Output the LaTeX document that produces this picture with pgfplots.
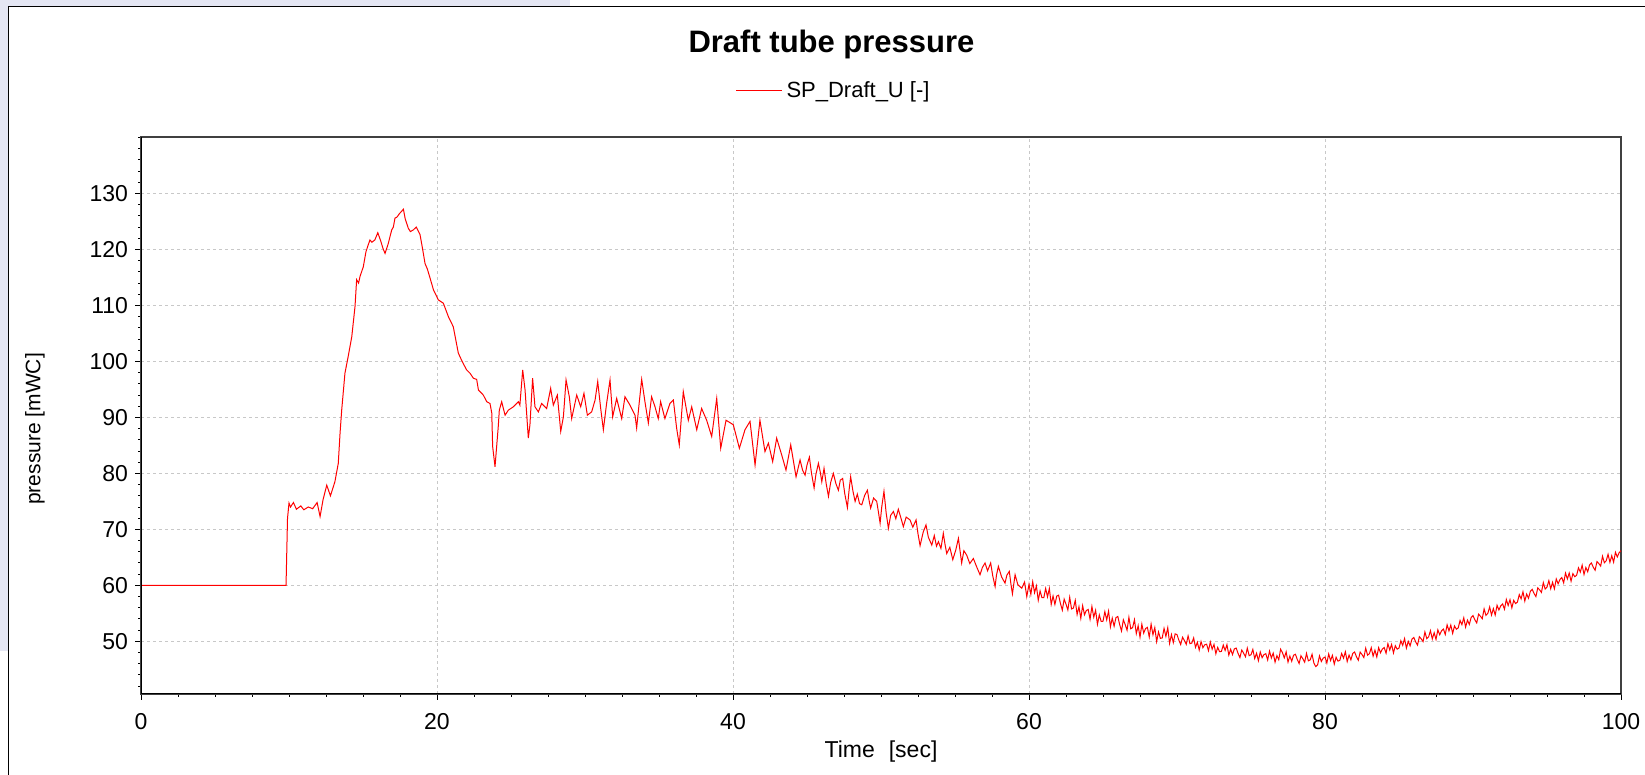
\documentclass[border=0pt]{standalone}
\usepackage{fontspec}
\setmainfont{Liberation Sans}
\usepackage{pgfplots}
\pgfplotsset{compat=1.18}
\definecolor{bgl}{RGB}{228,230,243}
\definecolor{gridc}{RGB}{200,200,200}

\begin{document}
\begin{tikzpicture}
\useasboundingbox (0,0) rectangle (822.5pt,387.5pt);
% screenshot surroundings and window frame
\begin{scope}
\clip (0,0) rectangle (822.5pt,387.5pt);
\fill[white] (0,0) rectangle (822.5pt,387.5pt);
\fill[bgl] (0,62pt) rectangle (4.25pt,387.5pt);
\fill[bgl] (0,384.25pt) rectangle (285pt,387.5pt);
\draw[black, line width=0.75pt] (4.25pt,-5pt) -- (4.25pt,384.25pt) -- (830pt,384.25pt);
\end{scope}

\node[font=\bfseries\fontsize{15.5}{18}\selectfont, anchor=base] at (415.75pt,361pt) {Draft tube pressure};

\begin{axis}[
  at={(70.5pt,40.5pt)}, anchor=south west,
  width=740pt, height=278.5pt, scale only axis,
  xmin=0, xmax=100, ymin=40.6, ymax=140.1,
  xtick={0,20,...,100}, ytick={50,60,...,130},
  minor xtick={0,2.5,...,100}, minor ytick={42,44,...,140},
  xtick pos=bottom, ytick pos=left,
  tick align=outside, major tick length=3pt, minor tick length=1.5pt,
  every tick/.style={black, line width=0.5pt},
  xmajorgrids, ymajorgrids,
  major grid style={gridc, dash pattern=on 1.5pt off 1.5pt, line width=0.5pt},
  axis line style={draw=black!75, line width=0.7pt},
  ticklabel style={font=\fontsize{11.5}{13}\selectfont},
  xticklabel style={yshift=-3pt},
  /pgf/number format/assume math mode=true,
  xlabel={Time\hspace{7pt}[sec]},
  ylabel={pressure [mWC]},
  xlabel style={at={(axis description cs:0.5,-0.104)}, anchor=center, font=\fontsize{11.5}{13}\selectfont},
  ylabel style={at={(axis description cs:-0.0716,0.476)}, anchor=center, font=\fontsize{10.5}{12}\selectfont},
  legend style={at={(axis description cs:0.4686,1.0826)}, anchor=center, draw=none, fill=none,
    font=\fontsize{11}{13}\selectfont},
  legend image code/.code={\draw[#1] (0pt,0pt) -- (23pt,0pt);},
]
\addplot[red, line width=0.5pt] coordinates {
(0,60) (9.8,60) (9.85,66) (9.9,72) (10.0,74.7) (10.1,74) (10.3,74.8) (10.5,73.6) (10.8,74.2) (11.0,73.5)
(11.3,74.0) (11.6,73.7) (11.9,74.8) (12.1,72.3) (12.3,75.3) (12.55,77.9) (12.8,76.0) (13.1,78.5) (13.33,81.8)
(13.45,87.2) (13.56,91.3) (13.78,97.9) (14.0,100.9) (14.24,104.4) (14.46,109.8) (14.57,114.6) (14.7,114.0)
(14.8,115.2) (15.02,116.9) (15.2,119.6) (15.35,120.8) (15.47,121.7) (15.6,121.3) (15.8,121.7) (16.0,123.0)
(16.2,121.5) (16.35,120.2) (16.49,119.3) (16.7,121.0) (16.94,123.5) (17.05,124.0) (17.16,125.6) (17.3,125.8)
(17.46,126.4) (17.6,126.8) (17.73,127.2) (17.85,125.5) (18.06,123.8) (18.2,123.2) (18.4,123.5) (18.6,124.0)
(18.85,122.7) (19.0,120.5) (19.19,117.5) (19.35,116.5) (19.53,114.9) (19.76,112.8) (20.09,111.0) (20.43,110.4)
(20.77,108.0) (21.1,106.2) (21.44,101.5) (21.7,100.0) (22.0,98.5) (22.23,97.9) (22.46,97.0) (22.68,96.8)
(22.8,94.9) (23.13,94.0) (23.36,92.8) (23.58,92.5) (23.7,90.8) (23.76,84.8) (23.92,81.2) (24.03,84.8)
(24.14,88.4) (24.21,91.3) (24.37,92.8) (24.6,90.4) (24.82,91.3) (25.16,91.9) (25.5,92.8) (25.6,92.2)
(25.79,98.5) (25.95,94.9) (26.17,86.3) (26.28,88.7) (26.46,97.0) (26.62,91.9) (26.85,91.0) (27.07,92.5)
(27.41,91.6) (27.68,95.2) (27.86,92.2) (28.13,94.0) (28.36,87.5) (28.54,90.1) (28.72,96.7) (28.94,93.7)
(29.1,89.8) (29.44,94.0) (29.71,91.9) (29.93,94.3) (30.16,90.4) (30.45,91.0) (30.68,93.1) (30.86,96.4)
(31.06,91.6) (31.24,87.8) (31.46,92.5) (31.69,96.7) (31.87,90.1) (32.14,93.4) (32.48,89.8) (32.7,93.7)
(33.04,92.2) (33.38,90.4) (33.49,88.1) (33.67,92.8) (33.83,96.8) (34.05,92.8) (34.28,89.0) (34.5,93.7)
(34.73,91.9) (34.95,89.8) (35.11,92.8) (35.4,89.8) (35.74,92.5) (35.97,93.1) (36.19,88.1) (36.37,85.1)
(36.64,94.6) (36.98,89.5) (37.21,91.9) (37.55,87.8) (37.88,91.6) (38.22,89.5) (38.56,86.6) (38.9,93.4)
(39.17,84.5) (39.53,89.5) (40.02,88.7) (40.43,84.5) (40.81,87.8) (41.15,89.3) (41.49,81.5) (41.82,89.5)
(42.16,83.9) (42.39,85.4) (42.68,82.1) (42.95,86.3) (43.29,83.3) (43.58,80.6) (43.9,85.1) (44.26,79.4)
(44.53,82.4) (44.7,80.6) (44.87,79.7) (45.0,81.5) (45.16,82.9) (45.3,80.1) (45.48,77.4) (45.6,79.8)
(45.77,81.8) (45.9,80.2) (46.0,78.5) (46.15,80.9) (46.3,78.1) (46.45,75.9) (46.6,78.4) (46.78,80.0)
(46.95,78.2) (47.12,77.0) (47.25,78.8) (47.41,79.1) (47.55,76.4) (47.73,73.9) (47.85,77.2) (47.95,79.4)
(48.1,76.9) (48.25,75.0) (48.4,76.3) (48.55,74.6) (48.7,74.4) (48.9,76.1) (49.08,77.0) (49.2,75.1)
(49.3,73.8) (49.5,75.6) (49.71,75.0) (49.82,73.2) (49.94,71.1) (50.05,74.0) (50.2,76.8) (50.35,72.9)
(50.5,70.2) (50.65,72.5) (50.84,73.2) (51.0,71.9) (51.17,73.6) (51.35,72.0) (51.51,70.5) (51.7,72.2)
(51.96,71.7) (52.15,70.4) (52.37,71.7) (52.5,69.2) (52.64,67.1) (52.85,69.5) (53.04,70.8) (53.2,68.6)
(53.43,67.2) (53.6,68.9) (53.75,67.0) (53.88,67.8) (54.05,66.6) (54.21,69.3) (54.32,67.4) (54.44,65.7)
(54.65,66.8) (54.85,64.6) (55.05,66.3) (55.23,68.4) (55.35,66.0) (55.45,64.0) (55.6,66.2) (55.79,65.4)
(56.0,63.9) (56.24,64.8) (56.45,63.4) (56.69,61.9) (56.85,63.2) (57.03,64.0) (57.2,62.6) (57.41,64.0)
(57.55,61.7) (57.71,59.8) (57.8,61.8) (57.93,63.4) (58.15,61.5) (58.38,60.4) (58.5,61.8) (58.67,62.5)
(58.78,60.2) (58.88,58.5) (59.06,61.9) (59.25,60.1) (59.51,59.5) (59.7,60.6) (59.85,58.0)
(60.0,60.2) (60.125,58.4) (60.25,60.65) (60.375,58.7) (60.5,59.9) (60.625,57.35) (60.75,59.0) (60.875,57.8)
(61.0,57.8) (61.125,59.45) (61.25,57.95) (61.375,59.45) (61.5,56.6) (61.625,58.1) (61.75,56.6) (61.875,58.1)
(62.0,58.25) (62.125,56.76) (62.25,55.58) (62.375,57.54) (62.5,56.65) (62.625,55.61) (62.75,57.88) (62.875,55.79)
(63.0,55.95) (63.125,57.33) (63.25,54.8) (63.375,56.18) (63.5,54.1) (63.625,56.38) (63.75,54.75) (63.875,55.53)
(64.0,55.7) (64.125,53.94) (64.25,56.23) (64.375,54.31) (64.5,55.55) (64.625,53.04) (64.75,54.73) (64.875,53.56)
(65.0,53.6) (65.125,55.3) (65.25,53.85) (65.375,55.4) (65.5,52.6) (65.625,54.15) (65.75,52.7) (65.875,54.25)
(66.0,54.45) (66.125,53.0) (66.25,51.85) (66.375,53.85) (66.5,53.0) (66.625,52.0) (66.75,54.3) (66.875,52.25)
(67.0,52.45) (67.125,53.86) (67.25,51.38) (67.375,52.79) (67.5,50.75) (67.625,53.06) (67.75,51.48) (67.875,52.29)
(68.0,52.5) (68.125,50.76) (68.25,53.08) (68.375,51.19) (68.5,52.45) (68.625,49.96) (68.75,51.68) (68.875,50.54)
(69.0,50.6) (69.125,52.31) (69.25,50.88) (69.375,52.44) (69.5,49.65) (69.625,51.21) (69.75,49.78) (69.875,51.34)
(70.0,51.2) (70.125,50.21) (70.25,49.43) (70.375,50.74) (70.5,50.15) (70.625,49.46) (70.75,50.98) (70.875,49.59)
(71.0,49.7) (71.125,50.61) (71.25,48.93) (71.375,49.84) (71.5,48.45) (71.625,49.96) (71.75,48.88) (71.875,49.39)
(72.0,49.5) (72.125,48.34) (72.25,49.88) (72.375,48.61) (72.5,49.45) (72.625,47.79) (72.75,48.93) (72.875,48.16)
(73.0,48.2) (73.125,49.34) (73.25,48.38) (73.375,49.41) (73.5,47.55) (73.625,48.59) (73.75,47.63) (73.875,48.66)
(74.0,48.8) (74.125,47.85) (74.25,47.1) (74.375,48.45) (74.5,47.9) (74.625,47.25) (74.75,48.8) (74.875,47.45)
(75.0,47.6) (75.125,48.56) (75.25,46.93) (75.375,47.89) (75.5,46.55) (75.625,48.11) (75.75,47.08) (75.875,47.64)
(76.0,47.8) (76.125,46.68) (76.25,48.25) (76.375,47.03) (76.5,47.9) (76.625,46.28) (76.75,47.45) (76.875,46.73)
(77.0,48.6) (77.125,47.98) (77.25,47.05) (77.375,48.13) (77.5,46.3) (77.625,47.38) (77.75,46.45) (77.875,47.53)
(78.0,47.7) (78.125,46.78) (78.25,46.05) (78.375,47.43) (78.5,46.9) (78.625,46.28) (78.75,47.85) (78.875,46.53)
(79.0,46.7) (79.125,47.7) (79.25,46.1) (79.375,45.5) (79.5,45.8) (79.625,47.4) (79.75,46.4) (79.875,47.0)
(80.0,47.2) (80.125,46.13) (80.25,47.75) (80.375,46.58) (80.5,47.5) (80.625,45.93) (80.75,47.15) (80.875,46.48)
(81.0,46.6) (81.125,47.85) (81.25,47.0) (81.375,48.15) (81.5,46.4) (81.625,47.55) (81.75,46.7) (81.875,47.85)
(82.0,48.1) (82.125,47.26) (82.25,46.63) (82.375,48.09) (82.5,47.65) (82.625,47.11) (82.75,48.78) (82.875,47.54)
(83.0,47.8) (83.125,48.88) (83.25,47.35) (83.375,48.43) (83.5,47.2) (83.625,48.88) (83.75,47.95) (83.875,48.63)
(84.0,48.9) (84.125,47.89) (84.25,49.58) (84.375,48.46) (84.5,49.45) (84.625,47.94) (84.75,49.23) (84.875,48.61)
(85.0,48.8) (85.125,50.1) (85.25,49.3) (85.375,50.5) (85.5,48.8) (85.625,50.0) (85.75,49.2) (85.875,50.4)
(86.0,50.7) (86.125,49.91) (86.25,49.33) (86.375,50.84) (86.5,50.45) (86.625,49.96) (86.75,51.68) (86.875,50.49)
(87.0,50.8) (87.125,51.91) (87.25,50.43) (87.375,51.54) (87.5,50.35) (87.625,52.06) (87.75,51.18) (87.875,51.89)
(88.0,52.2) (88.125,51.23) (88.25,52.95) (88.375,51.88) (88.5,52.9) (88.625,51.43) (88.75,52.75) (88.875,52.18)
(89.0,52.4) (89.125,53.74) (89.25,52.98) (89.375,54.21) (89.5,52.55) (89.625,53.79) (89.75,53.03) (89.875,54.26)
(90.0,54.6) (90.125,53.85) (90.25,53.3) (90.375,54.85) (90.5,54.5) (90.625,54.05) (90.75,55.8) (90.875,54.65)
(91.0,55.0) (91.125,56.15) (91.25,54.7) (91.375,55.85) (91.5,54.7) (91.625,56.45) (91.75,55.6) (91.875,56.35)
(92.0,56.7) (92.125,55.74) (92.25,57.48) (92.375,56.41) (92.5,57.45) (92.625,55.99) (92.75,57.33) (92.875,56.76)
(93.0,57.0) (93.125,58.35) (93.25,57.6) (93.375,58.85) (93.5,57.2) (93.625,58.45) (93.75,57.7) (93.875,58.95)
(94.0,59.3) (94.125,58.55) (94.25,58.0) (94.375,59.55) (94.5,59.2) (94.625,58.75) (94.75,60.5) (94.875,59.35)
(95.0,59.7) (95.125,60.85) (95.25,59.4) (95.375,60.55) (95.5,59.4) (95.625,61.15) (95.75,60.3) (95.875,61.05)
(96.0,61.4) (96.125,60.45) (96.25,62.2) (96.375,61.15) (96.5,62.2) (96.625,60.75) (96.75,62.1) (96.875,61.55)
(97.0,61.8) (97.125,63.14) (97.25,62.38) (97.375,63.61) (97.5,61.95) (97.625,63.19) (97.75,62.43) (97.875,63.66)
(98.0,64.0) (98.125,63.25) (98.25,62.7) (98.375,64.25) (98.5,63.9) (98.625,63.45) (98.75,65.2) (98.875,64.05)
(99.0,64.4) (99.125,65.56) (99.25,64.13) (99.375,65.29) (99.5,64.15) (99.625,65.91) (99.75,65.08) (99.875,65.84)
(100,66.2)
};
\addlegendentry{SP\_Draft\_U [-]}
\draw[black, line width=1pt] (rel axis cs:0,1) -- (rel axis cs:0,0) -- (rel axis cs:1,0);
\end{axis}
\end{tikzpicture}
\end{document}
